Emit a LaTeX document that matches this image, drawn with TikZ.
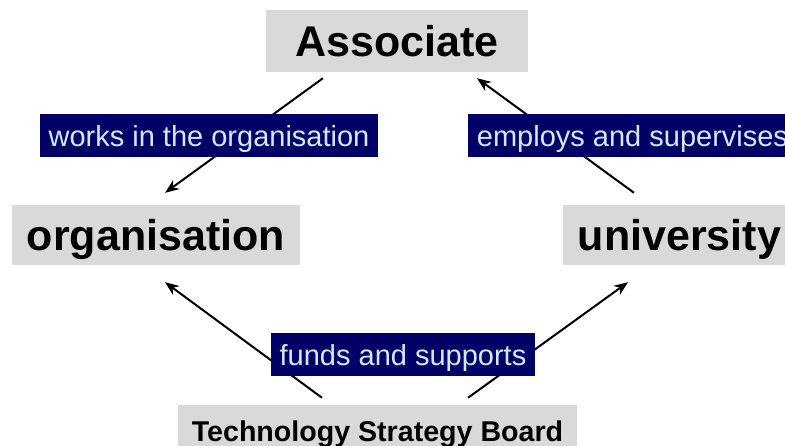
\documentclass[tikz,border=0pt]{standalone}
\usepackage{fontspec}
\setmainfont{Liberation Sans}
\usetikzlibrary{arrows.meta,calc}
\definecolor{boxgray}{HTML}{D9D9D9}
\definecolor{labnavy}{HTML}{000066}
\definecolor{labtext}{HTML}{CCECFF}
\tikzset{
  entity/.style={fill=boxgray, draw=none, inner sep=0pt, align=center, text depth=0pt,
    font=\fontsize{43}{48}\selectfont\bfseries},
  relbox/.style={fill=labnavy, draw=none, inner sep=0pt, align=center, text=labtext,
    text depth=0pt, font=\fontsize{29}{33}\selectfont},
  conn/.style={line width=2pt, draw=black, -{Stealth[length=14pt,width=11pt]}}
}
\begin{document}
\begin{tikzpicture}[x=1pt,y=-1pt]
\useasboundingbox (0,0) rectangle (785,446);
\clip (0,0) rectangle (785,446);
\fill[white] (0,0) rectangle (785,446);
% entity boxes
\node[entity, minimum width=262pt, minimum height=62pt] (assoc) at (397,41) {Associate};
\node[entity, minimum width=288pt, minimum height=60pt] (org) at (156,235) {organisation};
\node[entity, minimum width=233pt, minimum height=60pt] (univ) at (679.5,235) {university};
\node[entity, minimum width=399pt, minimum height=52pt,
      font=\fontsize{28.6}{32}\selectfont\bfseries] (tsb) at (377.5,431) {Technology Strategy Board};
% connectors
\draw[conn] ($(assoc.south)+(-74,6)$) -- ($(org.north)+(9,-12)$);
\draw[conn] ($(univ.north)+(-45.5,-12)$) -- ($(assoc.south)+(80,6)$);
\draw[conn] ($(tsb.north)+(-55.5,-7)$) -- ($(org.south)+(9,17)$);
\draw[conn] ($(tsb.north)+(90.5,-7)$) -- ($(univ.south)+(-51.5,17)$);
% relation labels
\node[relbox, minimum width=338pt, minimum height=43pt] (works) at (209,135.5) {works in the organisation};
\node[relbox, minimum width=329pt, minimum height=43pt] (employs) at (632.5,135.5) {employs and supervises};
\node[relbox, minimum width=264pt, minimum height=43pt] (funds) at (403,354.5) {funds and supports};
\end{tikzpicture}
\end{document}
